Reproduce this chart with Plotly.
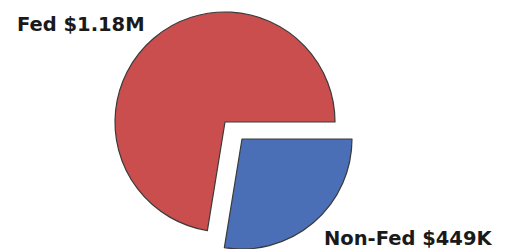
import plotly.graph_objects as go

categories = ["Non-Fed", "Fed"]
values = [449000, 1180000]
value_labels = ["$449K", "$1.18M"]
colors = ["#4A6FB6", "#CB4E4E"]

clear = "rgba(0,0,0,0)"
outline = "#3a3a3a"

# page body has an 8px default margin; figure sized to fill the rest of the window
W, H = 498, 241
OFF = 8

def px_x(a, b):
    return [(a - OFF) / W, (b - OFF) / W]

def px_y(top, bottom):
    return [1 - (bottom - OFF) / H, 1 - (top - OFF) / H]

fig = go.Figure()

# Fed slice (Non-Fed slot transparent)
fig.add_trace(go.Pie(
    labels=categories, values=values, sort=False, direction="clockwise", rotation=90,
    marker=dict(colors=[clear, colors[1]], line=dict(color=[clear, outline], width=[0, 1.2])),
    textinfo="none", hoverinfo="label+value", showlegend=False,
    domain=dict(x=px_x(115, 335), y=px_y(12, 232)),
))
# Non-Fed slice (exploded), Fed slot transparent
fig.add_trace(go.Pie(
    labels=categories, values=values, sort=False, direction="clockwise", rotation=90,
    marker=dict(colors=[colors[0], clear], line=dict(color=[outline, clear], width=[1.2, 0])),
    textinfo="none", hoverinfo="label+value", showlegend=False,
    domain=dict(x=px_x(132, 352), y=px_y(29, 249)),
))

font = dict(family="DejaVu Sans", size=19.5, color="#1a1a1a", weight="bold")
fig.add_annotation(text=f"{categories[1]} {value_labels[1]}", x=(15 - OFF) / W, y=1 - (24.5 - OFF) / H,
                   xref="paper", yref="paper", xanchor="left", yanchor="middle",
                   showarrow=False, font=font)
fig.add_annotation(text=f"{categories[0]} {value_labels[0]}", x=(322 - OFF) / W, y=1 - (238.5 - OFF) / H,
                   xref="paper", yref="paper", xanchor="left", yanchor="middle",
                   showarrow=False, font=font)

fig.update_layout(width=W, height=H, margin=dict(l=0, r=0, t=0, b=0),
                  paper_bgcolor="white", plot_bgcolor="white")
fig.write_html("out.html")
